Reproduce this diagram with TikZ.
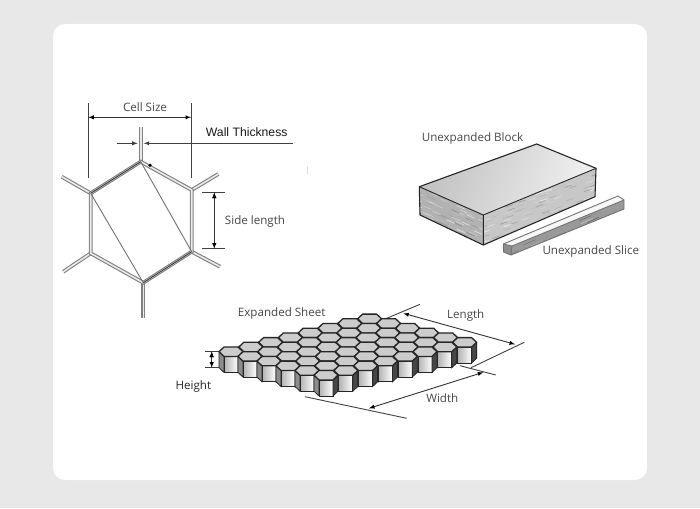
\documentclass[tikz,border=0pt]{standalone}
\usepackage{fontspec}
\setmainfont{Open Sans}
\newfontfamily\arialfont{Liberation Sans}
\usetikzlibrary{arrows}
\definecolor{pagegray}{RGB}{232,232,232}
\tikzstyle{wall} = [draw=black!50,double=black!8,line width=1.1pt,double distance=1.6pt,line join=miter]
\tikzstyle{thinline} = [draw=black!55,line width=0.9pt]
\tikzstyle{darkline} = [draw=black!75,line width=1pt]
\tikzstyle{dimline} = [draw=black!75,line width=0.9pt]
\tikzstyle{dimarrow} = [draw=black!80,line width=0.9pt,>=latex,<->]
\tikzstyle{label} = [text=black!72,inner sep=0pt,font=\fontsize{11.6}{13}\selectfont]
\tikzstyle{outline} = [draw=black!85,line width=1.1pt,line join=round]
\tikzstyle{grain} = [line width=0.6pt]
\tikzstyle{hextop} = [fill=black!20,draw=black!85,line width=1.3pt,line join=round]

\begin{document}
\begin{tikzpicture}[x=1pt,y=-1pt]
    \useasboundingbox (0,0) rectangle (700,508);
    \fill[pagegray] (0,0) rectangle (700,508);
    \fill[white,rounded corners=12pt] (53,24) rectangle (647,480);

    % First we draw the single cell
    \foreach \pos/ \name in {{(140.7,161.7)/T},{(191.7,190)/UR},{(191.7,251.7)/LR},{(143.3,282.7)/B},{(90.7,253.3)/LL},{(90.7,193.3)/UL},
        {(140.7,127)/Tout},{(218.3,174)/URout},{(220,266.7)/LRout},{(143.3,318.3)/Bout},{(63.3,271.7)/LLout},{(61.7,176.7)/ULout}}
        \path \pos coordinate (\name);

    \foreach \source/ \dest in {T/Tout, UR/URout, LR/LRout, B/Bout, LL/LLout, UL/ULout}
        \path[wall] (\source) -- (\dest);
    \path[wall] (T) -- (UR) -- (LR) -- (B) -- (LL) -- (UL) -- cycle;

    \foreach \source/ \dest in {T/LR, UL/B}
        \path[thinline] (\source) -- (\dest);
    \foreach \source/ \dest in {UL/T, B/LR}
        \path[darkline] (\source) -- (\dest);
    \fill[black] (150,165.3) circle (1.8pt);
    \draw[black!12,line width=0.8pt] (307,166) -- (307,174);

    % Connect the cell measures
    \foreach \pos/ \name in {{(88.3,103.3)/csLa},{(88.3,178.3)/csLb},{(191,103.3)/csRa},{(191,178.3)/csRb},
        {(88.3,117.3)/csL},{(191,117.3)/csR},
        {(116.7,143.3)/wtL},{(137.7,143.3)/wtLin},{(143.7,143.3)/wtRin},{(292.7,143.3)/wtR},
        {(201.7,192.7)/slTa},{(225,192.7)/slTb},{(201.7,248.7)/slBa},{(225,248.7)/slBb},
        {(214.3,192.7)/slT},{(214.3,248.7)/slB}}
        \path \pos coordinate (\name);

    \foreach \source/ \dest in {csLa/csLb, csRa/csRb, slTa/slTb, slBa/slBb}
        \path[dimline] (\source) -- (\dest);
    \path[dimarrow] (csL) edge (csR) (slT) edge (slB);
    \draw[dimline,-latex] (wtL) -- (wtLin);
    \draw[dimline,-latex] (wtR) -- (wtRin);

    \node[label] (cellsize) at (145,106.7) {Cell Size};
    \node[label,text=black!90,font=\arialfont\fontsize{12.2}{14}\selectfont] (wallthick) at (246.7,132.3) {Wall Thickness};
    \node[label] (sidelength) at (255,221) {Side length};

    % Draw the block and the slice
    \foreach \pos/ \name in {{(419.3,186.7)/bkL},{(536.7,144)/bkT},{(596,168.3)/bkR},{(483.3,215)/bkF},
        {(420,215)/bkLb},{(483.3,245)/bkFb},{(595,196.7)/bkRb},
        {(503.3,244)/scL},{(512,246)/scF},{(624,200)/scR},{(618,196)/scT},
        {(503.5,252)/scLb},{(511,255)/scFb},{(624,209)/scRb}}
        \path \pos coordinate (\name);

    \shade[left color=black!24,right color=black!6,shading angle=70] (bkL) -- (bkT) -- (bkR) -- (bkF) -- cycle;
    \fill[black!30] (bkL) -- (bkF) -- (bkFb) -- (bkLb) -- cycle;
    \fill[black!22] (bkF) -- (bkR) -- (bkRb) -- (bkFb) -- cycle;
    \pgfmathsetseed{11}
    \begin{scope}
        \clip (bkL) -- (bkF) -- (bkFb) -- (bkLb) -- cycle;
        \foreach \k in {1,...,130}{
            \pgfmathsetmacro\gx{410+74*rnd}
            \pgfmathsetmacro\gy{182+62*rnd}
            \pgfmathsetmacro\gs{8+40*rnd}
            \draw[grain,black!\gs] (\gx,\gy) -- ++(8,3.5);
        }
    \end{scope}
    \begin{scope}
        \clip (bkF) -- (bkR) -- (bkRb) -- (bkFb) -- cycle;
        \foreach \k in {1,...,260}{
            \pgfmathsetmacro\gx{478+118*rnd}
            \pgfmathsetmacro\gy{165+82*rnd}
            \pgfmathsetmacro\gs{6+34*rnd}
            \draw[grain,black!\gs] (\gx,\gy) -- ++(7,-2.4);
        }
    \end{scope}
    \path[outline] (bkL) -- (bkT) -- (bkR) -- (bkRb) -- (bkFb) -- (bkLb) -- cycle;
    \path[outline,line width=0.9pt] (bkL) -- (bkF) -- (bkR) (bkF) -- (bkFb);

    \fill[black!40] (scF) -- (scR) -- (scRb) -- (scFb) -- cycle;
    \begin{scope}
        \clip (scF) -- (scR) -- (scRb) -- (scFb) -- cycle;
        \foreach \k in {1,...,50}{
            \pgfmathsetmacro\gx{505+118*rnd}
            \pgfmathsetmacro\gy{198+58*rnd}
            \pgfmathsetmacro\gs{20+40*rnd}
            \draw[grain,black!\gs] (\gx,\gy) -- ++(12,-4.9);
        }
    \end{scope}
    \fill[black!45] (scL) -- (scF) -- (scFb) -- (scLb) -- cycle;
    \fill[black!3] (scL) -- (scT) -- (scR) -- (scF) -- cycle;
    \path[thinline] (scL) -- (scT) -- (scR) -- (scRb) -- (scFb) -- (scLb) -- cycle;
    \path[thinline] (scL) -- (scF) -- (scR) (scF) -- (scFb);

    \node[label] (blocklabel) at (472.5,138.3) {Unexpanded Block};
    \node[label] (slicelabel) at (590.8,251.7) {Unexpanded Slice};

    % Connect the sheet measures, they pass behind the cells
    \foreach \pos/ \name in {{(385,319)/lnAa},{(420,304.3)/lnAb},{(471,367.7)/lnBa},{(524.3,342.3)/lnBb},
        {(403.3,313.3)/lnA},{(515,344.3)/lnB},
        {(460,365.7)/wdAa},{(495.7,375)/wdAb},{(305,396.7)/wdBa},{(406.7,418.3)/wdBb},
        {(483.3,372.3)/wdA},{(369,408.3)/wdB},
        {(205,351.7)/htTa},{(220,351.7)/htTb},{(205,367.7)/htBa},{(220,367.7)/htBb},
        {(211.7,351.7)/htT},{(211.7,367.7)/htB}}
        \path \pos coordinate (\name);

    \foreach \source/ \dest in {lnAa/lnAb, lnBa/lnBb, wdAa/wdAb, wdBa/wdBb, htTa/htTb, htBa/htBb}
        \path[dimline] (\source) -- (\dest);
    \path[dimarrow] (lnA) edge (lnB) (wdA) edge (wdB) (htT) edge (htB);

    % Draw the expanded sheet, back cells first
    \foreach \i in {7,...,0}
        \foreach \j in {0,...,5}{
            \pgfmathsetmacro\cx{231+19.8*\i+19*\j}
            \pgfmathsetmacro\cy{351.7-4.7*\i+4.7*\j}
            \begin{scope}[shift={(\cx,\cy)}]
                \fill[black!45,draw=black!85,line width=0.8pt] (-12,0) -- (-7,4.7) -- (-7,20.7) -- (-12,16) -- cycle;
                \shade[left color=black!30,right color=white,draw=black!85,line width=0.8pt] (-7,4.7) rectangle (7,20.7);
                \fill[black!72,draw=black!85,line width=0.8pt] (7,4.7) -- (12,0) -- (12,16) -- (7,20.7) -- cycle;
                \path[hextop] (-12,0) -- (-7,-4.7) -- (7,-4.7) -- (12,0) -- (7,4.7) -- (-7,4.7) -- cycle;
            \end{scope}
        }

    \node[label] (sheetlabel) at (281.7,313.3) {Expanded Sheet};
    \node[label] (lengthlabel) at (465.7,315.7) {Length};
    \node[label] (widthlabel) at (442.3,398.3) {Width};
    \node[label,text=black!85] (heightlabel) at (193.3,386) {Height};
\end{tikzpicture}
\end{document}
